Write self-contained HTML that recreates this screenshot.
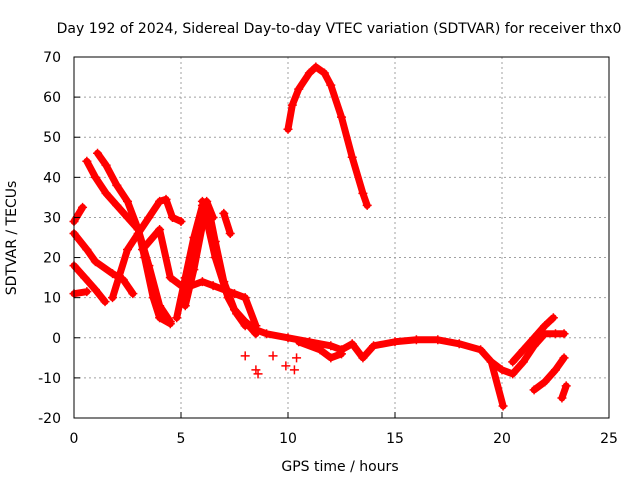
<!DOCTYPE html>
<html><head><meta charset="utf-8"><style>
body{margin:0;background:#fff;}
svg text{font-family:"DejaVu Sans","Liberation Sans",sans-serif;font-size:14px;fill:#000;}
</style></head><body>
<svg id="chart" width="640" height="480" xmlns="http://www.w3.org/2000/svg">
<rect width="640" height="480" fill="#fff"/>
<text x="339" y="33" text-anchor="middle">Day 192 of 2024, Sidereal Day-to-day VTEC variation (SDTVAR) for receiver thx0</text>
<g id="grid"></g>
<g id="series"></g>
<rect x="74" y="57" width="535" height="361" fill="none" stroke="#000" stroke-width="1"/>
<g id="ticks"></g>
<text x="340" y="471" text-anchor="middle">GPS time / hours</text>
<text x="16" y="238" text-anchor="middle" transform="rotate(-90 16 238)">SDTVAR / TECUs</text>
</svg>
<script>
const xTicks=[0,5,10,15,20,25];
const yTicks=[-20,-10,0,10,20,30,40,50,60,70];
const sA=[[0,18],[0.5,15],[1,12],[1.45,9]];
const sB=[[0,26],[0.6,22],[1,19],[1.8,16],[2.3,14.5],[2.75,11]];
const sC=[[0,11],[0.6,11.5]];
const sD=[[0,29],[0.4,32.5]];
const sE=[[0.6,44],[1,40],[1.5,36],[2,33],[2.5,30],[3,27],[3.5,18],[4,8],[4.5,4]];
const sF=[[1.1,46],[1.5,43],[2,38],[2.5,34],[3,27],[3.3,20],[3.7,10],[4,5],[4.5,3.5]];
const sG=[[1.8,10],[2.5,22],[3,26],[3.5,30],[4,34],[4.3,34.5],[4.6,30],[5,29]];
const sH=[[3.2,22],[4,27],[4.5,15],[5,13],[5.5,13],[6,14],[6.5,13],[7,12],[7.5,11],[8,10],[8.5,3]];
const sI=[[4.8,5],[5.2,15],[5.6,25],[6,33],[6.3,32],[6.6,24],[7,14],[7.5,7],[8,4],[8.5,1]];
const sJ=[[5.2,8],[5.6,17],[6,28],[6.2,34],[6.5,30]];
const sK=[[6,34],[6.6,20],[7.2,10],[7.6,6],[8,3]];
const sL=[[7,31],[7.3,26]];
const sM=[[8,4],[8.5,2],[9,1],[10,0],[11,-1],[12,-2],[12.5,-3],[13,-1.5],[13.5,-5],[14,-2],[15,-1],[16,-0.5],[17,-0.5],[18,-1.5],[19,-3],[19.5,-6],[20,-8],[20.5,-9],[21,-6],[21.5,-2],[22,1],[22.5,1],[22.9,1]];
const sN=[[19.5,-6],[20.05,-17]];
const sO=[[20.5,-6],[21,-3],[21.5,0],[22,3],[22.4,5]];
const sP=[[21.5,-13],[22,-11],[22.5,-8],[22.9,-5]];
const sQ=[[22.8,-15],[23,-12]];
const sR=[[10.5,-1],[11.5,-3],[12,-5],[12.5,-4]];
const sS=[[10,52],[10.2,58],[10.5,62],[11,66],[11.3,67.5],[11.7,66],[12,63],[12.5,55],[13,45],[13.5,36],[13.7,33]];
const sIso=[[8,-4.5],[8.5,-8],[9.3,-4.5],[10.3,-8],[10.4,-5],[8.6,-9],[9.9,-7]];
const allSeries=[sA,sB,sC,sD,sE,sF,sG,sH,sI,sJ,sK,sL,sM,sN,sO,sP,sQ,sR,sS];
const X=h=>74+h*535/25;
const Y=v=>57+(70-v)*361/90;
const NS="http://www.w3.org/2000/svg";
function mk(t,a,p){const e=document.createElementNS(NS,t);for(const k in a)e.setAttribute(k,a[k]);p.appendChild(e);return e;}
const grid=document.getElementById('grid'),ticks=document.getElementById('ticks'),ser=document.getElementById('series');
xTicks.forEach(t=>{
 if(t>0&&t<25){const g=mk('line',{x1:X(t),x2:X(t),y1:57,y2:418,stroke:'#a0a0a0','stroke-dasharray':'2,3'},grid);
 
 }
 const l=mk('line',{x1:X(t),x2:X(t),y1:418,y2:412,stroke:'#000'},ticks);
 
 
 const tx=mk('text',{x:X(t),y:443,'text-anchor':'middle'},ticks);tx.textContent=t;
 
 
});
yTicks.forEach(t=>{
 if(t>-20&&t<70){const g=mk('line',{x1:74,x2:609,y1:Y(t),y2:Y(t),stroke:'#a0a0a0','stroke-dasharray':'2,3'},grid);
 
 }
 const l=mk('line',{x1:74,x2:80,y1:Y(t),y2:Y(t),stroke:'#000'},ticks);
 
 
 const tx=mk('text',{x:61,y:Y(t)+5,'text-anchor':'end'},ticks);tx.textContent=t;
 
 
});
allSeries.forEach(s=>{
 const p=mk('polyline',{points:s.map(d=>X(d[0])+','+Y(d[1])).join(' '),fill:'none',stroke:'#ff0000','stroke-width':7,'stroke-linejoin':'round','stroke-linecap':'round'},ser);
 
 
});
allSeries.concat([sIso]).forEach(s=>s.forEach(d=>{
 const x=X(d[0]),y=Y(d[1]);
 const m=mk('path',{d:`M${x-4.5},${y}H${x+4.5}M${x},${y-4.5}V${y+4.5}`,stroke:'#ff0000','stroke-width':1.5},ser);
 
 
}));
</script>
</body></html>
